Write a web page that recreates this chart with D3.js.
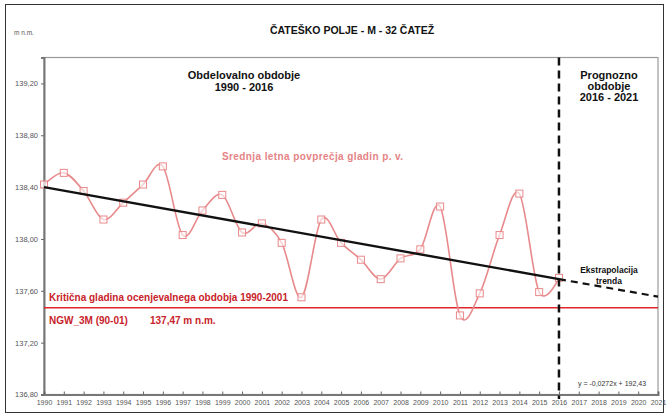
<!DOCTYPE html>
<html><head><meta charset="utf-8">
<script src="https://cdn.jsdelivr.net/npm/d3@7"></script>
<style>
html,body{margin:0;padding:0;background:#fff;}
svg{display:block;font-family:"Liberation Sans",Arial,sans-serif;}
</style></head>
<body>
<svg id="c" width="667" height="415"></svg>
<script>
const years = [1990,1991,1992,1993,1994,1995,1996,1997,1998,1999,2000,2001,2002,2003,2004,2005,2006,2007,2008,2009,2010,2011,2012,2013,2014,2015,2016];
const levels = [138.42,138.51,138.37,138.15,138.28,138.42,138.56,138.03,138.22,138.34,138.05,138.12,137.97,137.55,138.15,137.97,137.84,137.69,137.85,137.92,138.25,137.41,137.58,138.03,138.35,137.59,137.70];
const trendYears = [1990, 2016];
const trendValues = [138.40, 137.69];
const extrapYears = [2016, 2021];
const extrapValues = [137.69, 137.555];
const criticalLevel = 137.47;
const xTickYears = d3.range(1990, 2022);
const yTickValues = [136.8,137.2,137.6,138.0,138.4,138.8,139.2];

const svg = d3.select("#c");
const x = d3.scaleLinear().domain([1990, 2021]).range([44, 658]);
const y = d3.scaleLinear().domain([136.8, 139.4]).range([394.5, 57.5]);

// outer frame
svg.append("rect").attr("x",5.5).attr("y",4.5).attr("width",658).attr("height",408)
  .attr("fill","none").attr("stroke","#333").attr("stroke-width",1);

// title
svg.append("text").attr("x",352).attr("y",34).attr("text-anchor","middle")
  .attr("font-size",10.5).attr("font-weight","bold").attr("fill","#111").text("ČATEŠKO POLJE - M - 32 ČATEŽ");
svg.append("text").attr("x",14).attr("y",35).attr("font-size",6.5).attr("fill","#555").text("m n.m.");

// plot box
svg.append("rect").attr("x",44).attr("y",57.5).attr("width",614).attr("height",337)
  .attr("fill","none").attr("stroke","#999").attr("stroke-width",1.2);

// y axis
const yAxis = d3.axisLeft(y).tickValues(yTickValues).tickSize(3).tickPadding(3)
  .tickFormat(d => d3.format(".2f")(d).replace(".", ","));
const ya = svg.append("g").attr("transform","translate(44,0)").call(yAxis);
ya.select(".domain").attr("stroke","#777").attr("stroke-width",2);
ya.selectAll(".tick line").attr("stroke","#666");
ya.selectAll("text").attr("font-size",7.5).attr("fill","#555").attr("font-family","Liberation Sans, Arial, sans-serif");

// x axis
const xAxis = d3.axisBottom(x).tickValues(xTickYears).tickSize(-3).tickPadding(6).tickFormat(d3.format("d"));
const xa = svg.append("g").attr("transform","translate(0,394.5)").call(xAxis);
xa.select(".domain").attr("stroke","#777").attr("stroke-width",2);
xa.selectAll(".tick line").attr("stroke","#666");
xa.selectAll("text").attr("font-size",7).attr("fill","#555").attr("font-family","Liberation Sans, Arial, sans-serif");

// critical line
svg.append("line").attr("x1",x(1990)).attr("x2",x(2021)).attr("y1",y(criticalLevel)).attr("y2",y(criticalLevel))
  .attr("stroke","#e0262b").attr("stroke-width",1.5);

// data series
const pts = years.map((yr,i)=>[yr, levels[i]]);
svg.append("path").datum(pts)
  .attr("d", d3.line().x(d=>x(d[0])).y(d=>y(d[1])).curve(d3.curveCatmullRom.alpha(0)))
  .attr("fill","none").attr("stroke","#e8898b").attr("stroke-width",1.6);
svg.selectAll("rect.pt").data(pts).enter().append("rect").attr("class","pt")
  .attr("x",d=>x(d[0])-3.5).attr("y",d=>y(d[1])-3.5).attr("width",7).attr("height",7)
  .attr("fill","#fff").attr("fill-opacity",0.6).attr("stroke","#e8898b").attr("stroke-width",1);

// trend
svg.append("path").datum(trendYears.map((yr,i)=>[yr,trendValues[i]]))
  .attr("d", d3.line().x(d=>x(d[0])).y(d=>y(d[1])))
  .attr("stroke","#111").attr("stroke-width",2.4).attr("fill","none");
svg.append("path").datum(extrapYears.map((yr,i)=>[yr,extrapValues[i]]))
  .attr("d", d3.line().x(d=>x(d[0])).y(d=>y(d[1])))
  .attr("stroke","#111").attr("stroke-width",2.2).attr("stroke-dasharray","7,5").attr("fill","none");

// vertical divider
svg.append("line").attr("x1",x(2016)).attr("x2",x(2016)).attr("y1",57.5).attr("y2",399)
  .attr("stroke","#111").attr("stroke-width",2.5).attr("stroke-dasharray","8,5");

// annotations
function txt(xp, yp, s, opts) {
  const t = svg.append("text").attr("x",xp).attr("y",yp).text(s)
    .attr("font-size",opts.size).attr("font-weight",opts.bold?"bold":"normal")
    .attr("fill",opts.color||"#111").attr("text-anchor",opts.anchor||"start");
  if (opts.ls) t.attr("letter-spacing", opts.ls);
  return t;
}
txt(244,79,"Obdelovalno obdobje",{size:11,bold:true,anchor:"middle"});
txt(244,91,"1990 - 2016",{size:11,bold:true,anchor:"middle"});
txt(609,79,"Prognozno",{size:11,bold:true,anchor:"middle"});
txt(609,90,"obdobje",{size:11,bold:true,anchor:"middle"});
txt(609,101,"2016 - 2021",{size:11,bold:true,anchor:"middle"});
txt(222,160,"Srednja letna povprečja gladin p. v.",{size:10,bold:true,color:"#e58385",ls:0.4});
txt(49,301,"Kritična gladina ocenjevalnega obdobja 1990-2001",{size:10,bold:true,color:"#c8232a"});
txt(49,324,"NGW_3M (90-01)",{size:10,bold:true,color:"#c8232a"});
txt(150,324,"137,47 m n.m.",{size:10,bold:true,color:"#c8232a"});
txt(609,273,"Ekstrapolacija",{size:8.5,bold:true,anchor:"middle"});
txt(609,284,"trenda",{size:8.5,bold:true,anchor:"middle"});
txt(612,386,"y = -0,0272x + 192,43",{size:7,color:"#333",anchor:"middle"});
</script>
</body></html>
